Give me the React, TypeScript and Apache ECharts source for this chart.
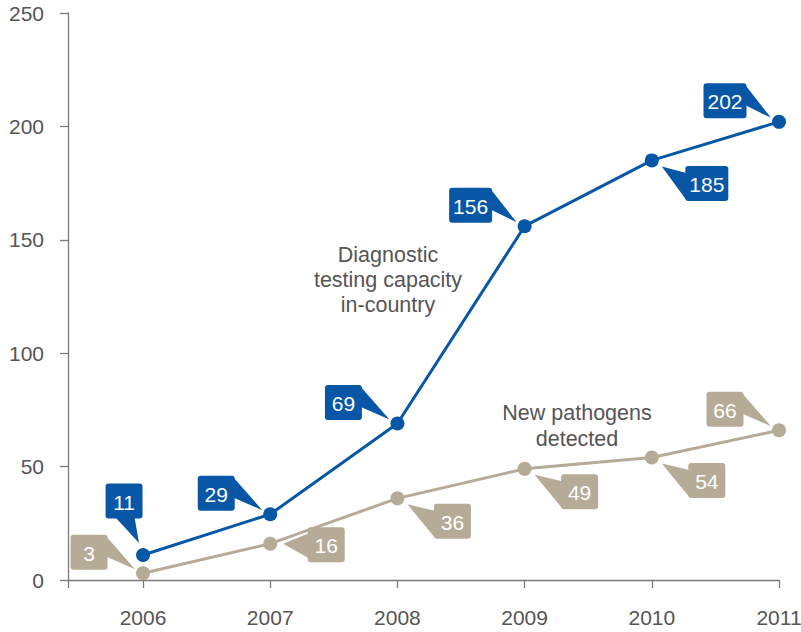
import React, { useEffect, useRef } from "react";
import * as echarts from "echarts";

// Years on the horizontal axis
const years = [2006, 2007, 2008, 2009, 2010, 2011];
// Diagnostic testing capacity in-country
const diagnosticValues = [11, 29, 69, 156, 185, 202];
// New pathogens detected
const pathogenValues = [3, 16, 36, 49, 54, 66];
// Y-axis tick marks
const yTicks = [0, 50, 100, 150, 200, 250];

// Where each value callout sits relative to its point
const diagnosticCallouts = ["up", "upLeft", "upLeft", "upLeft", "downRight", "upLeft"];
const pathogenCallouts = ["upLeft", "right", "downRight", "downRight", "downRight", "upLeft"];

const BLUE = "#0857a6";
const TAN = "#b6ab97";
const GREY_TEXT = "#555555";
const AXIS_GREY = "#7a7a7a";
const FONT = "Liberation Sans, Arial, sans-serif";

const X_MIN = 2005.41;

function calloutSeries(name: string, values: number[], placements: string[], color: string) {
  return {
    type: "custom",
    name,
    z: 10,
    data: years.map((y, i) => [y, values[i]]),
    renderItem: (params: any, api: any) => {
      const [px, py] = api.coord([api.value(0), api.value(1)]);
      const text = String(api.value(1));
      const w = text.length > 2 ? 43 : 37;
      const h = 35;
      const place = placements[params.dataIndex];
      let cx = 0;
      let cy = 0;
      let tri: number[][] = [];
      if (place === "upLeft") {
        cx = px - 54;
        cy = py - 21;
        const bx = cx - w / 2;
        const by = cy - h / 2;
        tri = [[bx + w - 1, by + 2], [bx + w - 1, by + 22], [px - 8, py - 4]];
      } else if (place === "downRight") {
        cx = px + 55;
        cy = py + 23;
        const bx = cx - w / 2;
        const by = cy - h / 2;
        tri = [[bx + 1, by + 7], [bx + 1, by + h - 1], [px + 10, py + 6]];
      } else if (place === "up") {
        cx = px - 19;
        cy = py - 54;
        const bx = cx - w / 2;
        const by = cy - h / 2;
        tri = [[bx + 10, by + h - 1], [bx + 29, by + h - 1], [px - 4, py - 12]];
      } else {
        cx = px + 56;
        cy = py + 1;
        const bx = cx - w / 2;
        const by = cy - h / 2;
        tri = [[bx + 1, by + 6], [bx + 1, by + h - 4], [px + 13, py]];
      }
      return {
        type: "group",
        children: [
          { type: "polygon", shape: { points: tri }, style: { fill: color } },
          {
            type: "rect",
            shape: { x: cx - w / 2, y: cy - h / 2, width: w, height: h, r: 3 },
            style: { fill: color },
          },
          {
            type: "text",
            style: {
              x: cx,
              y: cy + 1,
              text,
              fill: "#ffffff",
              fontSize: 21,
              fontFamily: FONT,
              align: "center",
              verticalAlign: "middle",
            },
          },
        ],
      };
    },
  };
}

export default function App() {
  const ref = useRef<HTMLDivElement>(null);

  useEffect(() => {
    if (!ref.current) return;
    const chart = echarts.init(ref.current, undefined, { renderer: "svg" });
    chart.setOption({
      animation: false,
      backgroundColor: "#ffffff",
      grid: {
        left: 68,
        right: 22,
        top: 13,
        bottom: 52,
        containLabel: false,
        outerBoundsMode: "none",
      },
      xAxis: {
        type: "value",
        min: X_MIN,
        max: years[years.length - 1],
        axisLine: { show: true, lineStyle: { color: AXIS_GREY, width: 1.3 } },
        axisTick: {
          show: true,
          length: 8,
          customValues: [X_MIN, ...years],
          lineStyle: { color: AXIS_GREY, width: 1.3 },
        },
        axisLabel: {
          customValues: years,
          formatter: (v: number) => String(Math.round(v)),
          color: GREY_TEXT,
          fontSize: 21,
          fontFamily: FONT,
          margin: 27,
          hideOverlap: false,
        },
        splitLine: { show: false },
      },
      yAxis: {
        type: "value",
        min: 0,
        max: yTicks[yTicks.length - 1],
        interval: 50,
        axisLine: { show: true, lineStyle: { color: AXIS_GREY, width: 1.3 } },
        axisTick: { show: true, length: 8, lineStyle: { color: AXIS_GREY, width: 1.3 } },
        axisLabel: {
          color: GREY_TEXT,
          fontSize: 21,
          fontFamily: FONT,
          margin: 24,
        },
        splitLine: { show: false },
      },
      graphic: [
        {
          type: "text",
          x: 388,
          y: 242,
          style: {
            text: "Diagnostic\ntesting capacity\nin-country",
            fill: GREY_TEXT,
            fontSize: 21.5,
            fontFamily: FONT,
            lineHeight: 25,
            align: "center",
            verticalAlign: "top",
          },
        },
        {
          type: "text",
          x: 577,
          y: 400,
          style: {
            text: "New pathogens\ndetected",
            fill: GREY_TEXT,
            fontSize: 21.5,
            fontFamily: FONT,
            lineHeight: 26,
            align: "center",
            verticalAlign: "top",
          },
        },
      ],
      series: [
        {
          type: "line",
          name: "New pathogens detected",
          data: years.map((y, i) => [y, pathogenValues[i]]),
          symbol: "circle",
          symbolSize: 14,
          lineStyle: { color: TAN, width: 3 },
          itemStyle: { color: TAN },
          z: 3,
        },
        {
          type: "line",
          name: "Diagnostic testing capacity in-country",
          data: years.map((y, i) => [y, diagnosticValues[i]]),
          symbol: "circle",
          symbolSize: 14,
          lineStyle: { color: BLUE, width: 3 },
          itemStyle: { color: BLUE },
          z: 4,
        },
        calloutSeries("pathogenLabels", pathogenValues, pathogenCallouts, TAN),
        calloutSeries("diagnosticLabels", diagnosticValues, diagnosticCallouts, BLUE),
      ],
    });
    return () => chart.dispose();
  }, []);

  return (
    <div
      ref={ref}
      style={{ position: "absolute", left: 0, top: 0, width: 801, height: 632 }}
    />
  );
}
